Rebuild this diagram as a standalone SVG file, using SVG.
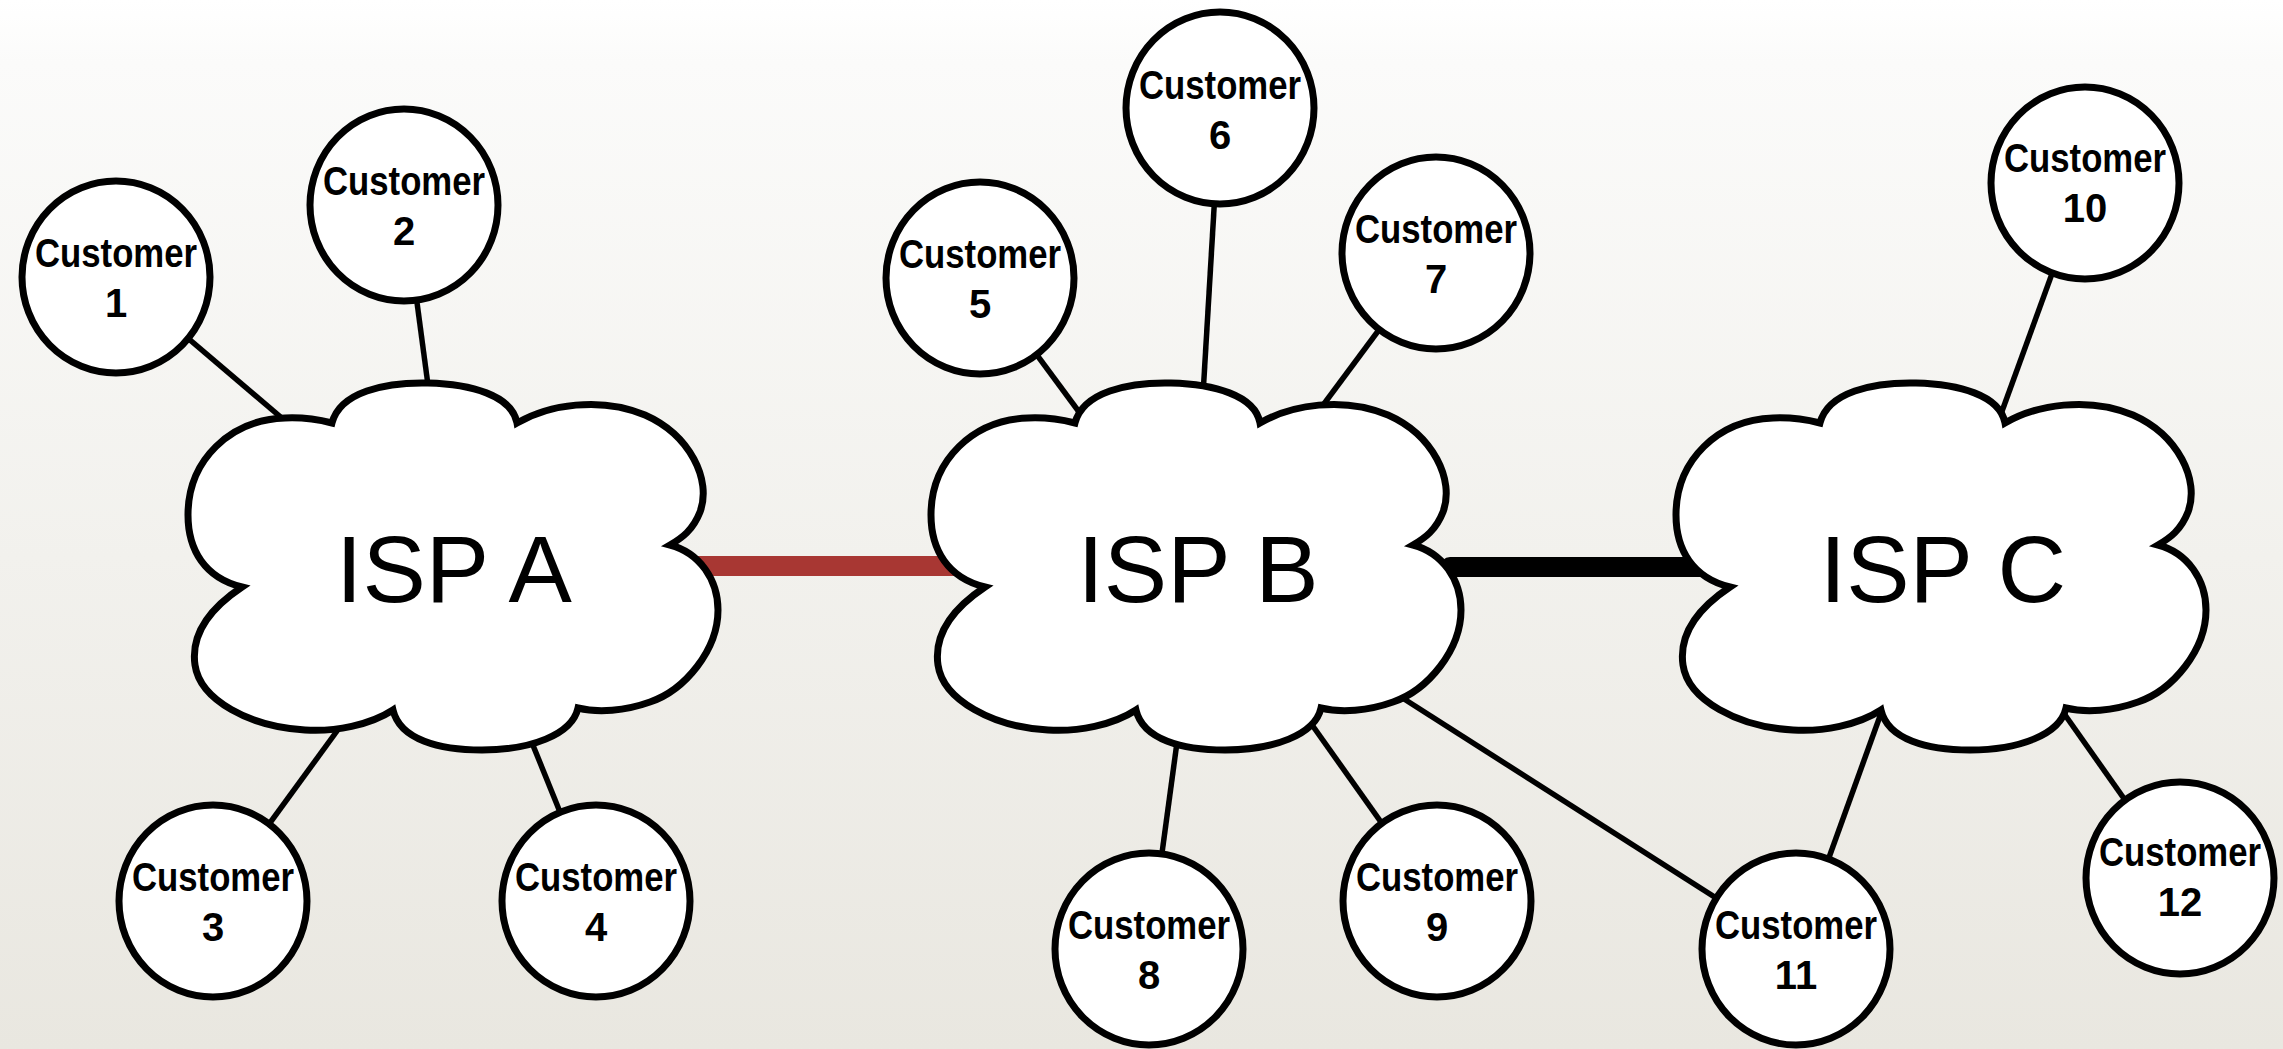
<svg xmlns="http://www.w3.org/2000/svg" xmlns:xlink="http://www.w3.org/1999/xlink" width="2283" height="1049" viewBox="0 0 2283 1049">
<defs>
<linearGradient id="bg" x1="0" y1="0" x2="0" y2="1">
<stop offset="0" stop-color="#ffffff"/>
<stop offset="0.06" stop-color="#fbfbfa"/>
<stop offset="1" stop-color="#e9e7e0"/>
</linearGradient>
<path id="cloud" d="M332,423 C340,392 385,382 428,383 C470,384 512,395 517,423 C548,405 600,396 645,415 C690,435 712,480 700,512 C693,530 682,538 670,545 C700,553 718,580 718,610 C718,650 685,690 650,702 C625,711 598,713 578,708 C572,735 530,750 482,750 C440,750 400,740 393,710 C370,725 335,732 305,730 C250,727 200,700 195,665 C190,630 215,605 242,587 C205,578 188,550 188,515 C188,460 230,420 285,418 C305,417 320,420 332,423 Z"/>
</defs>
<style>
.cloud{fill:#ffffff;stroke:#000000;stroke-width:7;stroke-linejoin:miter;stroke-miterlimit:10}
.cust{fill:#ffffff;stroke:#000000;stroke-width:7}
.link{stroke:#000000;stroke-width:5.5;fill:none}
.isp{font-family:"Liberation Sans",Arial,sans-serif;font-size:95px;fill:#000000;text-anchor:middle}
.ct{font-family:"Liberation Sans Narrow","Liberation Sans",Arial,sans-serif;font-weight:bold;font-size:40px;fill:#000000;text-anchor:middle}
</style>
<rect x="0" y="0" width="2283" height="1049" fill="url(#bg)"/>
<g id="connectors">
<line class="link" x1="116" y1="277" x2="290" y2="425"/>
<line class="link" x1="404" y1="205" x2="430" y2="400"/>
<line class="link" x1="213" y1="901" x2="345" y2="720"/>
<line class="link" x1="596" y1="901" x2="526" y2="728"/>
<line class="link" x1="980" y1="278" x2="1085" y2="420"/>
<line class="link" x1="1220" y1="108" x2="1203" y2="395"/>
<line class="link" x1="1436" y1="253" x2="1312" y2="420"/>
<line class="link" x1="1149" y1="949" x2="1178" y2="735"/>
<line class="link" x1="1437" y1="901" x2="1305" y2="715"/>
<line class="link" x1="1796" y1="949" x2="1390" y2="690"/>
<line class="link" x1="1796" y1="949" x2="1884" y2="705"/>
<line class="link" x1="2085" y1="183" x2="1997" y2="425"/>
<line class="link" x1="2180" y1="878" x2="2058" y2="705"/>
<line x1="690" y1="566" x2="960" y2="566" stroke="#a83733" stroke-width="20" stroke-linecap="round"/>
<line x1="1450" y1="567" x2="1700" y2="567" stroke="#000000" stroke-width="20" stroke-linecap="round"/>
</g>
<g id="ispA">
<use xlink:href="#cloud" class="cloud"/>
<text class="isp" x="454" y="602">ISP A</text>
</g>
<g id="ispB">
<use xlink:href="#cloud" class="cloud" transform="translate(743,0)"/>
<text class="isp" x="1198" y="602">ISP B</text>
</g>
<g id="ispC">
<use xlink:href="#cloud" class="cloud" transform="translate(1488,0)"/>
<text class="isp" x="1943" y="602">ISP C</text>
</g>
<g id="c1"><ellipse class="cust" cx="116" cy="277" rx="94" ry="96"/><text class="ct" x="116" y="267" textLength="162" lengthAdjust="spacingAndGlyphs">Customer</text><text class="ct" x="116" y="317">1</text></g>
<g id="c2"><ellipse class="cust" cx="404" cy="205" rx="94" ry="96"/><text class="ct" x="404" y="195" textLength="162" lengthAdjust="spacingAndGlyphs">Customer</text><text class="ct" x="404" y="245">2</text></g>
<g id="c3"><ellipse class="cust" cx="213" cy="901" rx="94" ry="96"/><text class="ct" x="213" y="891" textLength="162" lengthAdjust="spacingAndGlyphs">Customer</text><text class="ct" x="213" y="941">3</text></g>
<g id="c4"><ellipse class="cust" cx="596" cy="901" rx="94" ry="96"/><text class="ct" x="596" y="891" textLength="162" lengthAdjust="spacingAndGlyphs">Customer</text><text class="ct" x="596" y="941">4</text></g>
<g id="c5"><ellipse class="cust" cx="980" cy="278" rx="94" ry="96"/><text class="ct" x="980" y="268" textLength="162" lengthAdjust="spacingAndGlyphs">Customer</text><text class="ct" x="980" y="318">5</text></g>
<g id="c6"><ellipse class="cust" cx="1220" cy="108" rx="94" ry="96"/><text class="ct" x="1220" y="99" textLength="162" lengthAdjust="spacingAndGlyphs">Customer</text><text class="ct" x="1220" y="149">6</text></g>
<g id="c7"><ellipse class="cust" cx="1436" cy="253" rx="94" ry="96"/><text class="ct" x="1436" y="243" textLength="162" lengthAdjust="spacingAndGlyphs">Customer</text><text class="ct" x="1436" y="293">7</text></g>
<g id="c8"><ellipse class="cust" cx="1149" cy="949" rx="94" ry="96"/><text class="ct" x="1149" y="939" textLength="162" lengthAdjust="spacingAndGlyphs">Customer</text><text class="ct" x="1149" y="989">8</text></g>
<g id="c9"><ellipse class="cust" cx="1437" cy="901" rx="94" ry="96"/><text class="ct" x="1437" y="891" textLength="162" lengthAdjust="spacingAndGlyphs">Customer</text><text class="ct" x="1437" y="941">9</text></g>
<g id="c10"><ellipse class="cust" cx="2085" cy="183" rx="94" ry="96"/><text class="ct" x="2085" y="172" textLength="162" lengthAdjust="spacingAndGlyphs">Customer</text><text class="ct" x="2085" y="222">10</text></g>
<g id="c11"><ellipse class="cust" cx="1796" cy="949" rx="94" ry="96"/><text class="ct" x="1796" y="939" textLength="162" lengthAdjust="spacingAndGlyphs">Customer</text><text class="ct" x="1796" y="989">11</text></g>
<g id="c12"><ellipse class="cust" cx="2180" cy="878" rx="94" ry="96"/><text class="ct" x="2180" y="866" textLength="162" lengthAdjust="spacingAndGlyphs">Customer</text><text class="ct" x="2180" y="916">12</text></g>
</svg>
